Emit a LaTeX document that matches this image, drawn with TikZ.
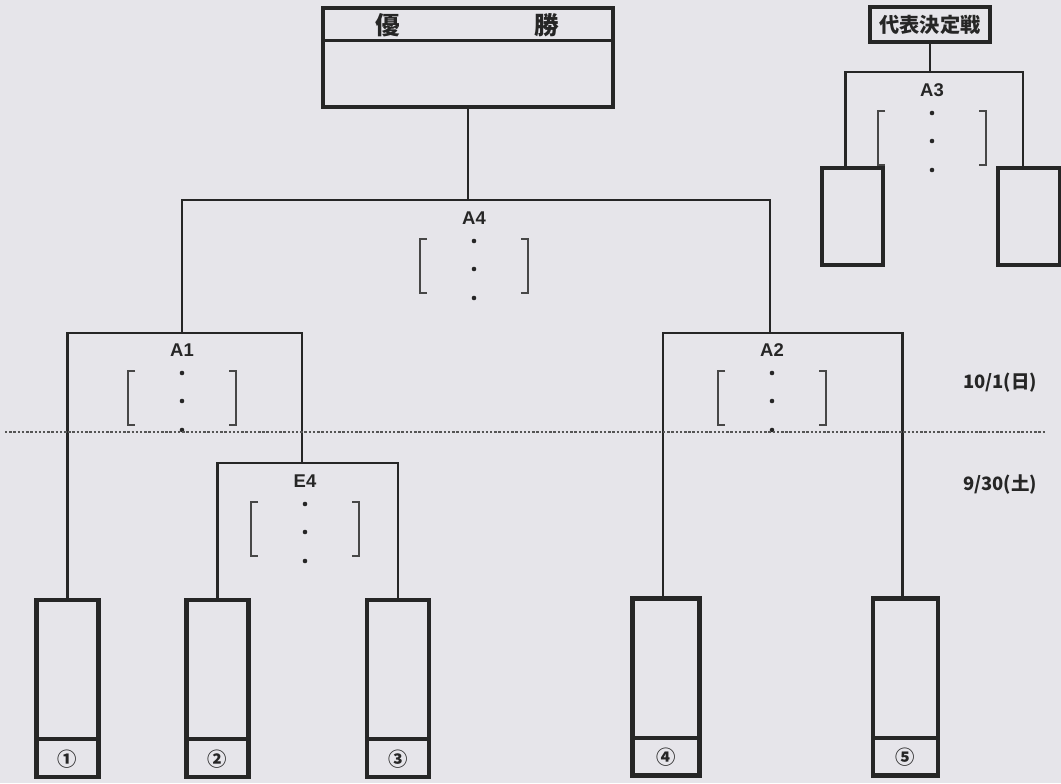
\documentclass[tikz,border=0pt]{standalone}
\usepackage{fontspec}
\newfontfamily\jpfont{Noto Sans CJK JP}
\newfontfamily\lblfont{Liberation Sans}
\usetikzlibrary{positioning,calc}
\definecolor{PaperGray}{HTML}{E6E5EA}
\definecolor{InkGray}{HTML}{262626}
\definecolor{SepGray}{HTML}{555555}

\begin{document}
\begin{tikzpicture}[
    x=0.2mm, y=-0.2mm,
    entrybox/.style={
      draw=InkGray,
      line width=2.3pt,
      minimum width=12.4mm,
      minimum height=35.4mm,
      inner sep=0pt
    },
    repbox/.style={
      draw=InkGray,
      line width=2.3pt,
      minimum width=12.2mm,
      minimum height=19.4mm,
      inner sep=0pt
    },
    titlebox/.style={
      draw=InkGray,
      line width=1.8pt,
      inner sep=0pt
    },
    wire/.style={
      draw=InkGray,
      line width=1.5pt
    },
    bracket/.style={
      draw=InkGray!85,
      line width=0.9pt
    },
    matchlbl/.style={
      font=\lblfont\bfseries\fontsize{10.5}{12}\selectfont,
      text=InkGray,
      inner sep=1pt
    },
    numlbl/.style={
      font=\jpfont\bfseries\fontsize{11}{12}\selectfont,
      text=InkGray,
      inner sep=0pt
    },
    daylbl/.style={
      font=\jpfont\bfseries\fontsize{10.5}{12}\selectfont,
      text=InkGray,
      inner sep=0pt
    },
    daysep/.style={
      draw=SepGray,
      line width=1.5pt,
      dash pattern=on 1.4pt off 1pt
    }
  ]

  \fill[PaperGray] (0,0) rectangle (1061,783);
  \useasboundingbox (0,0) rectangle (1061,783);

  % winner and play-off titles
  \node[titlebox, minimum width=58mm, minimum height=19.8mm] (champ) at (468,57.5) {};
  \draw[titlebox] ([yshift=-6.8mm]champ.north west) -- ([yshift=-6.8mm]champ.north east);
  \node[font=\jpfont\bfseries\fontsize{14}{16}\selectfont, text=InkGray] (champA) at (388,25) {優};
  \node[font=\jpfont\bfseries\fontsize{14}{16}\selectfont, text=InkGray] (champB) at (547,25) {勝};
  \node[titlebox, line width=2pt, minimum width=24mm, minimum height=7mm,
        font=\jpfont\bfseries\fontsize{11.5}{13}\selectfont, text=InkGray] (reptitle) at (930,24.5) {代表決定戦};

  % entry boxes
  \node[entrybox] (ent1) at (67.5,688.5) {};
  \node[entrybox] (ent2) at (217.5,688.5) {};
  \node[entrybox] (ent3) at (398,688.5) {};
  \node[entrybox, minimum width=13.4mm] (ent4) at (666,687) {};
  \node[entrybox, minimum width=13mm] (ent5) at (905.5,687) {};
  \foreach \n/\t in {1/①,2/②,3/③,4/④,5/⑤} {
    \draw[entrybox] ([yshift=8mm]ent\n.south west) -- ([yshift=8mm]ent\n.south east);
    \node[numlbl] (num\n) at ([yshift=4mm]ent\n.south) {\t};
  }
  \node[repbox] (rep1) at (852.5,216.5) {};
  \node[repbox, minimum width=12.4mm] (rep2) at (1029,216.5) {};

  % match labels and junctions
  \node[matchlbl] (a4) at (474,218) {A4};
  \node[matchlbl] (a1) at (182,350) {A1};
  \node[matchlbl] (a2) at (772,350) {A2};
  \node[matchlbl] (e4) at (305,481) {E4};
  \node[matchlbl] (a3) at (932,90) {A3};
  \coordinate (a4j) at (468,200);
  \coordinate (a1j) at (182,333);
  \coordinate (a2j) at (770,333);
  \coordinate (e4j) at (302,463);
  \coordinate (a3j) at (930,72);

  % time brackets
  \foreach \m in {a4,a1,a2,e4,a3} {
    \draw[bracket] ($(\m)+(-47,21)$) -- ++(-7,0) -- ++(0,54) -- ++(7,0);
    \draw[bracket] ($(\m)+(47,21)$) -- ++(7,0) -- ++(0,54) -- ++(-7,0);
    \foreach \d in {23,51,80}
      \fill[InkGray] ($(\m)+(0,\d)$) circle (1.3pt);
  }

  % bracket lines
  \draw[wire] (champ.south) -- (a4j);
  \draw[wire] (a1j) |- (a4j) -| (a2j);
  \draw[wire] (ent1.north) |- (a1j) -| (e4j);
  \draw[wire] (ent2.north) |- (e4j) -| (ent3.north);
  \draw[wire] ([xshift=-0.6mm]ent4.north) |- (a2j) -| ([xshift=-0.6mm]ent5.north);
  \draw[wire] (reptitle.south) -- (a3j);
  \draw[wire] ([xshift=-1.4mm]rep1.north) |- (a3j) -| ([xshift=-1.2mm]rep2.north);

  % day boundary
  \coordinate (sepL) at (5,432);
  \coordinate (sepR) at (1045,432);
  \draw[daysep] (sepL) -- (sepR);
  \node[daylbl] (day2) at (1000,383) {10/1(日)};
  \node[daylbl] (day1) at (1000,485) {9/30(土)};

\end{tikzpicture}
\end{document}
